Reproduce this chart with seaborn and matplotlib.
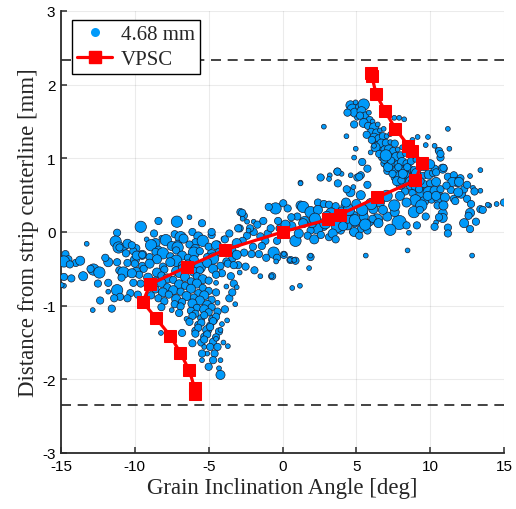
import numpy as np
import pandas as pd
import matplotlib
matplotlib.use("Agg")
import matplotlib.pyplot as plt
from matplotlib.lines import Line2D
import seaborn as sns

# ---------------- data ----------------
# VPSC model curve (angle in deg, position in mm)
vpsc_x = [5.98, 6.05, 6.34, 6.95, 7.65, 8.53, 8.80, 9.46, 8.99, 6.43, 3.87, 3.10, 0.0,
          -3.87, -6.45, -8.96, -9.46, -8.57, -7.60, -6.92, -6.31, -5.95, -5.95]
vpsc_y = [2.16, 2.12, 1.87, 1.64, 1.40, 1.17, 1.10, 0.94, 0.70, 0.47, 0.236, 0.17, 0.0,
          -0.24, -0.47, -0.71, -0.95, -1.17, -1.41, -1.64, -1.88, -2.12, -2.20]

strip_edges = [2.335, -2.345]

# measured grains: upper arm
arm_x = [4.6, 4.75, 4.9, 5.2, 5.5, 5.35, 5.05, 5.6, 5.85, 5.9, 5.5, 6.1, 5.8, 6.2, 6.45, 6.0, 6.35,
         6.6, 6.85, 6.2, 6.5, 6.8, 7.05, 7.3, 6.4, 6.7, 7.0, 7.3, 7.6, 6.6, 6.9, 7.2, 7.5, 7.8, 8.1,
         6.8, 7.1, 7.4, 7.7, 8.0, 8.3, 8.6, 6.9, 7.2, 7.5, 7.8, 8.1, 8.4, 8.7, 9.0, 7.1, 7.4, 7.7,
         8.0, 8.3, 8.6, 8.9, 9.3, 9.6, 7.6, 7.9, 8.2, 8.5, 8.8, 9.1, 9.5, 9.9, 10.2, 8.0, 8.4, 8.7,
         9.2, 9.6, 10.0, 10.4, 8.3, 8.8, 9.4, 9.9, 10.3, 10.7, 9.0, 9.6, 10.1, 10.6, 11.0,
         5.7, 6.05, 6.3, 6.55, 6.9, 7.15, 7.45, 7.75, 8.05, 8.35, 8.65, 8.95, 9.25, 7.35, 7.85,
         8.15, 8.45, 8.75, 9.05, 9.35, 4.4, 4.95, 5.25]
arm_y = [1.72, 1.66, 1.62, 1.70, 1.73, 1.64, 1.55, 1.58, 1.62, 1.52, 1.48, 1.50, 1.44, 1.42, 1.46,
         1.36, 1.35, 1.38, 1.40, 1.28, 1.27, 1.30, 1.30, 1.33, 1.18, 1.20, 1.21, 1.22, 1.20, 1.10,
         1.12, 1.12, 1.10, 1.12, 1.15, 1.02, 1.03, 1.01, 1.02, 1.04, 1.06, 1.08, 0.93, 0.92, 0.94,
         0.92, 0.95, 0.93, 0.96, 0.98, 0.83, 0.85, 0.82, 0.86, 0.83, 0.86, 0.84, 0.86, 0.88, 0.74,
         0.76, 0.73, 0.77, 0.74, 0.72, 0.76, 0.78, 0.80, 0.64, 0.66, 0.63, 0.62, 0.65, 0.66, 0.68,
         0.55, 0.53, 0.52, 0.54, 0.56, 0.58, 0.43, 0.42, 0.44, 0.46, 0.47,
         1.32, 1.25, 1.15, 1.06, 0.98, 0.88, 0.79, 0.69, 0.70, 0.78, 0.69, 0.62, 0.58, 0.97, 0.88,
         0.79, 0.88, 0.67, 0.80, 0.69, 1.62, 1.76, 1.58]
arm_s = [30, 45, 30, 20, 45, 30, 10, 20, 10, 20, 30, 10, 20, 30, 10, 20, 20, 10, 10, 30, 20, 20,
         10, 10, 20, 30, 20, 10, 20, 20, 20, 30, 20, 10, 10, 30, 20, 20, 30, 20, 10, 10, 20, 30,
         20, 20, 30, 20, 20, 10, 20, 20, 30, 20, 30, 20, 20, 10, 20, 20, 30, 20, 20, 30, 20, 20,
         30, 20, 30, 20, 30, 45, 20, 20, 30, 20, 20, 30, 45, 30, 20, 45, 30, 20, 45, 30,
         20, 20, 30, 20, 20, 30, 20, 30, 20, 20, 30, 20, 20, 20, 20, 30, 20, 20, 30, 20,
         20, 10, 20]

# measured grains: scattered around the upper arm and right tail
right_x = [2.8, 4.33, 4.85, 4.96, 4.85, 3.72, 4.0, 3.2, 1.22, 2.65, 5.3, 5.75, 5.4, 5.97, 6.2,
           5.07, 4.6, 5.3, 5.75, 7.0, 11.2, 11.3, 10.5, 10.7, 10.3, 9.7, 9.85, 8.8, 9.15, 8.24,
           7.9, 7.57, 10.85, 10.3, 11.2, 11.6, 12.05, 12.7, 13.4, 13.4, 12.9, 11.8, 12.1, 12.5,
           11.6, 13.4, 14.0, 14.5, 15.0, 12.7, 12.3, 12.7, 10.85, 10.85, 11.2, 10.4, 9.7, 9.83,
           10.4, 10.5, 9.4, 8.9, 7.9, 7.3, 8.4, 9.1, 6.4, 7.1, 7.6, 8.4, 7.95, 7.05, 6.6, 6.15,
           5.45, 4.8, 4.9, 4.3, 4.2, 4.8, 4.4, 5.3, 5.9, 7.57, 13.9, 13.56, 12.77, 12.6, 13.1,
           11.7, 10.9, 11.2, 10.3, 8.56, 12.84, 5.64, 8.47, 10.6, 10.7, 10.9, 10.4, 11.5, 11.95,
           12.3, 11.4, 11.9, 12.5, 13.0, 10.6, 11.1, 10.0, 9.3]
right_y = [1.43, 1.30, 1.46, 1.13, 1.01, 0.82, 0.79, 0.77, 0.67, 0.74, 0.77, 0.86, 0.95, 1.08,
           1.17, 0.74, 0.54, 0.50, 0.64, 1.04, 1.40, 1.13, 1.11, 1.01, 1.17, 1.18, 1.29, 1.25,
           1.29, 1.53, 1.55, 1.55, 0.86, 0.86, 0.75, 0.77, 0.73, 0.76, 0.84, 0.56, 0.60, 0.68,
           0.52, 0.45, 0.45, 0.31, 0.36, 0.38, 0.40, 0.26, 0.12, 0.04, 0.25, 0.19, 0.06, 0.13,
           0.21, 0.49, 0.49, 0.36, 0.36, 0.27, 0.13, 0.03, 0.09, 0.09, 0.17, 0.21, 0.27, 0.40,
           0.49, 0.49, 0.40, 0.31, 0.27, 0.22, 0.13, 0.17, 0.35, 0.00, 0.09, 0.04, 0.13, 0.36,
           0.37, 0.30, 0.38, 0.22, 0.14, 0.42, 0.36, -0.02, 0.07, -0.01, -0.32, -0.32, -0.25,
           1.10, 1.06, 0.87, 0.81, 0.68, 0.68, 0.58, 0.57, 0.54, 0.64, 0.55, 0.20, 0.63, 0.92,
           0.30]
right_s = [10, 10, 20, 10, 10, 20, 10, 10, 10, 10, 20, 20, 20, 10, 10, 20, 30, 30, 20, 45, 10,
           10, 10, 20, 10, 10, 10, 10, 10, 10, 10, 10, 30, 20, 20, 20, 20, 10, 10, 10, 10, 30,
           30, 20, 20, 20, 10, 10, 20, 30, 30, 20, 30, 30, 20, 10, 20, 30, 30, 20, 45, 45, 70,
           45, 20, 20, 45, 30, 30, 30, 30, 45, 30, 30, 30, 30, 30, 20, 20, 20, 30, 20, 20, 45,
           10, 20, 20, 20, 20, 20, 30, 20, 20, 10, 10, 10, 10, 20, 20, 20, 20, 30, 30, 20, 20,
           30, 20, 20, 20, 20, 30, 20]

# measured grains: central band
center_x = [3.72, 1.22, 2.58, 3.15, 3.75, 4.62, 5.2, 4.8, 4.35, -0.47, -0.93, 0.05, 0.35, 1.22,
            1.4, 1.9, 2.4, 2.8, 3.15, 3.6, 1.0, 2.4, 4.0, 4.4, 4.9, 5.5, 6.1, 5.75, 4.85, 3.95,
            3.7, 2.8, 2.35, 1.9, 1.7, 2.15, 2.6, 3.15, 0.88, 0.09, -0.37, -1.16, -1.5, -1.95,
            -2.4, -2.7, -1.4, -1.6, -0.6, -0.37, 0.09, 0.54, 0.88, 1.9, 1.8, -2.5, -1.9, -1.5,
            -0.7, -2.6, -2.1, -2.62, -2.85, -1.95, -2.2, -1.7, 1.9, 0.66, 1.18, 0.5, 0.8, 0.1,
            -0.43, -0.74, 2.0, 2.9, 3.4, 1.5, 0.6, -0.2, -1.0, -3.1, -3.4, -2.9,
            3.3, 4.1, 4.5, 5.0, 5.6, 6.0, 6.8, 5.2, 3.6, 1.4, 0.6, 0.2, -0.8, -1.3, -2.0, -3.0,
            -3.5, -1.1, 2.2, 3.0, 4.3, 5.4, 6.5, 1.1, -0.3]
center_y = [0.82, 0.66, 0.74, 0.72, 0.66, 0.77, 0.75, 0.61, 0.58, 0.32, 0.34, 0.39, 0.32, 0.36,
            0.34, 0.27, 0.40, 0.38, 0.37, 0.35, 0.21, 0.30, 0.29, 0.18, 0.16, 0.21, 0.18, 0.02,
            0.00, 0.02, 0.07, 0.07, 0.05, 0.02, -0.05, -0.10, -0.04, -0.07, -0.12, -0.03, -0.12,
            -0.12, -0.06, 0.00, -0.05, -0.12, -0.19, -0.30, -0.28, -0.35, -0.31, -0.38, -0.39,
            -0.34, -0.49, -0.47, -0.52, -0.60, -0.60, -0.28, -0.30, 0.22, 0.27, 0.14, 0.05, 0.10,
            -0.32, -0.76, -0.73, -0.38, -0.38, -0.30, -0.40, -0.60, 0.12, 0.12, -0.02, 0.15,
            0.08, 0.05, -0.02, -0.15, -0.36, 0.05,
            0.25, 0.08, 0.30, 0.38, 0.10, 0.38, 0.30, -0.05, -0.10, 0.12, 0.20, 0.10, 0.05, 0.15,
            -0.20, 0.05, -0.25, -0.35, 0.18, 0.22, 0.40, 0.30, 0.12, -0.02, 0.15]
center_s = [20, 10, 20, 10, 20, 10, 20, 10, 20, 45, 20, 20, 20, 30, 45, 45, 20, 20, 20, 20, 20,
            30, 20, 30, 45, 30, 20, 20, 30, 20, 45, 20, 45, 20, 20, 30, 20, 20, 45, 20, 20, 20,
            20, 20, 20, 20, 20, 20, 45, 20, 20, 20, 20, 20, 10, 20, 20, 10, 20, 20, 20, 20, 20,
            10, 20, 20, 10, 10, 10, 10, 10, 10, 10, 10, 30, 45, 30, 30, 30, 20, 20, 30, 20, 20,
            45, 30, 45, 30, 45, 45, 30, 20, 20, 30, 20, 30, 20, 20, 20, 20, 30, 20, 45, 30, 30,
            45, 30, 30, 20]

# measured grains: lower-left cluster
lower_x = [-8.7, -8.2, -7.3, -6.9, -6.1, -5.7, -4.8, -4.0,
           -9.2, -8.6, -7.9, -7.1, -6.7, -5.9, -5.4, -4.4, -3.9,
           -9.9, -8.9, -8.4, -7.5, -7.1, -6.3, -5.9, -5.0, -4.5, -3.4,
           -10.1, -9.5, -8.6, -8.1, -7.2, -6.8, -6.0, -5.6, -4.8, -4.3, -3.1,
           -10.0, -9.0, -8.5, -7.6, -7.2, -6.4, -6.0, -5.1, -4.7, -3.8,
           -10.5, -9.5, -9.0, -8.1, -7.6, -6.8, -6.4, -5.6, -5.1, -4.2, -3.7,
           -9.9, -9.4, -8.5, -8.0, -7.2, -6.8, -6.0, -5.6, -4.7, -4.1,
           -9.7, -9.1, -8.2, -7.8, -7.0, -6.6, -5.8, -5.4, -4.5,
           -9.6, -8.6, -8.2, -7.4, -7.0, -6.2, -5.8, -5.0, -4.5,
           -9.0, -8.6, -7.8, -7.4, -6.6, -6.2, -5.4, -5.0, -3.8,
           -8.9, -8.1, -7.7, -6.9, -6.5, -5.7, -5.3, -4.5,
           -8.4, -8.0, -7.2, -6.8, -6.0, -5.6, -4.8, -4.4,
           -8.2, -7.3, -6.9, -6.1, -5.8, -5.1, -4.8, -3.2,
           -7.5, -7.0, -6.2, -5.9, -5.3, -5.0, -4.4,
           -6.5, -6.1, -5.5, -5.3, -4.7, -4.5,
           -6.3, -5.7, -5.5, -4.9, -4.7, -4.1,
           -5.9, -5.7, -5.1, -4.9, -4.3,
           -5.9, -5.3, -5.1, -4.5, -6.8,
           -5.5, -5.3, -4.7, -4.5, -6.1,
           -5.3, -4.9, -4.4, -5.1, -4.6, -5.45, -4.7, -5.45, -4.2, -5.0, -4.2,
           -3.75, -4.2, -8.23, -9.6, -7.15, -5.45, -4.8, -3.6, -2.73, -2.7, -2.4, -2.3, -8.4,
           -6.3, -3.0, -3.3,
           -3.5, -3.1, -3.6, -2.9, -3.9, -4.0, -3.7, -3.3, -4.3, -3.4]
lower_y = [-0.02, -0.08, -0.03, -0.07, 0.00, -0.06, -0.04, -0.09,
           -0.10, -0.15, -0.11, -0.16, -0.09, -0.14, -0.12, -0.17, -0.10,
           -0.22, -0.18, -0.24, -0.19, -0.21, -0.17, -0.23, -0.20, -0.18, -0.24,
           -0.26, -0.31, -0.27, -0.29, -0.25, -0.32, -0.28, -0.26, -0.30, -0.27, -0.31,
           -0.38, -0.34, -0.37, -0.33, -0.39, -0.35, -0.38, -0.34, -0.36, -0.40,
           -0.42, -0.46, -0.43, -0.47, -0.41, -0.45, -0.44, -0.48, -0.42, -0.46, -0.43,
           -0.54, -0.50, -0.55, -0.51, -0.53, -0.49, -0.54, -0.52, -0.50, -0.56,
           -0.58, -0.62, -0.59, -0.63, -0.57, -0.61, -0.60, -0.64, -0.58,
           -0.70, -0.66, -0.69, -0.65, -0.71, -0.67, -0.70, -0.66, -0.69,
           -0.74, -0.78, -0.75, -0.79, -0.73, -0.77, -0.76, -0.80, -0.74,
           -0.86, -0.82, -0.85, -0.81, -0.87, -0.83, -0.86, -0.82,
           -0.90, -0.94, -0.91, -0.95, -0.89, -0.93, -0.92, -0.96,
           -1.02, -0.98, -1.01, -0.97, -1.03, -0.99, -1.02, -0.98,
           -1.06, -1.10, -1.07, -1.11, -1.05, -1.09, -1.08,
           -1.18, -1.14, -1.17, -1.13, -1.19, -1.15,
           -1.22, -1.26, -1.23, -1.27, -1.21, -1.25,
           -1.34, -1.30, -1.33, -1.29, -1.35,
           -1.38, -1.42, -1.39, -1.43, -1.37,
           -1.50, -1.46, -1.49, -1.45, -1.51,
           -1.56, -1.56, -1.56, -1.65, -1.65, -1.65, -1.74, -1.74, -1.74, -1.83, -1.94,
           -1.20, -1.33, -1.37, 0.07, 0.14, 0.12, 0.00, -0.02, 0.26, 0.18, 0.14, 0.02, 0.15,
           0.20, -0.45, -0.70,
           -0.60, -0.75, -0.90, -0.55, -1.05, -1.50, -1.55, -0.45, -1.85, -0.82]
lower_s = [20, 10, 20, 45, 20, 30, 20, 10,
           10, 30, 45, 20, 30, 20, 45, 20, 20,
           20, 45, 20, 30, 45, 20, 30, 20, 30, 20,
           20, 30, 20, 45, 20, 30, 45, 20, 30, 20, 30,
           30, 20, 30, 20, 45, 20, 30, 20, 45, 20,
           20, 20, 30, 20, 30, 20, 30, 45, 30, 20, 20,
           30, 20, 30, 20, 30, 20, 30, 20, 30, 20,
           20, 30, 20, 30, 20, 30, 20, 30, 20,
           20, 20, 30, 20, 30, 20, 30, 20, 10,
           30, 20, 20, 30, 20, 30, 20, 20, 10,
           20, 30, 20, 20, 30, 20, 30, 20,
           20, 20, 30, 20, 20, 30, 20, 10,
           20, 20, 20, 30, 20, 30, 20, 10,
           10, 20, 20, 20, 30, 20, 20,
           10, 20, 20, 20, 30, 20,
           20, 20, 20, 20, 20, 10,
           20, 20, 30, 20, 20,
           20, 20, 20, 20, 20,
           20, 20, 20, 10, 20,
           10, 20, 20, 10, 20, 20, 20, 10, 10, 20, 30,
           10, 10, 10, 45, 45, 20, 20, 20, 20, 10, 10, 10, 20, 10, 20, 20,
           20, 10, 20, 10, 20, 10, 10, 20, 10, 20]

# measured grains: left tail
left_x = [-14.7, -14.5, -14.8, -14.0, -14.4, -13.7, -13.26, -14.8, -14.8, -14.3, -13.5, -12.85,
          -12.8, -12.4, -12.5, -12.35, -11.8, -11.8, -11.8, -11.56, -11.2, -11.3, -11.1, -11.2,
          -11.05, -11.2, -11.0, -11.4, -10.77, -10.7, -10.5, -10.2, -10.6, -9.87, -10.0, -9.5,
          -10.2, -10.1, -10.3, -9.8, -10.5, -14.95, -11.04, -12.0, -13.0, -10.9]
left_y = [-0.30, -0.37, -0.40, -0.42, -0.44, -0.39, -0.16, -0.73, -0.61, -0.63, -0.60, -1.06,
          -0.51, -0.55, -0.70, -0.93, -0.41, -0.69, -0.81, -1.04, -0.01, -0.13, -0.21, -0.41,
          -0.52, -0.79, -0.88, -0.90, -0.55, -0.20, -0.16, -0.18, -0.29, -0.32, -0.43, -0.31,
          -0.56, -0.69, -0.83, -0.85, -0.90, -0.72, -0.21, -0.35, -0.50, -0.62]
left_s = [20, 20, 45, 20, 20, 30, 10, 10, 20, 20, 30, 10, 45, 45, 20, 20, 30, 20, 10, 20, 20,
          45, 45, 20, 20, 45, 20, 20, 45, 20, 30, 20, 20, 30, 20, 20, 30, 20, 20, 20, 20, 10,
          20, 20, 20, 20]

# ---------------- plot ----------------
sns.set_theme(style="white")
plt.rcParams['font.family'] = ['Liberation Sans', 'DejaVu Sans']

gx = arm_x + right_x + center_x + lower_x + left_x
gy = arm_y + right_y + center_y + lower_y + left_y
gs = arm_s + right_s + center_s + lower_s + left_s
grains = pd.DataFrame({"angle": gx, "pos": gy, "size": gs})
vpsc = pd.DataFrame({"angle": vpsc_x, "pos": vpsc_y})

fig = plt.figure(figsize=(5.16, 5.10), dpi=100)
ax = fig.add_axes([61 / 516, 1 - 454 / 510, 443 / 516, 442 / 510])

blue = "#009AFA"
sns.scatterplot(data=grains, x="angle", y="pos", size="size", sizes=(12, 105), size_norm=(10, 70),
                color=blue, edgecolor="#1b1b2a", linewidth=0.5, legend=False, ax=ax, zorder=3)

for yv in strip_edges:
    ax.axhline(yv, color="#222222", lw=1.2, ls=(0, (6, 4)), zorder=2)

sns.lineplot(data=vpsc, x="angle", y="pos", sort=False, estimator=None, color="#FF0000",
             lw=2.3, marker="s", markersize=8, markeredgecolor="#FF0000", ax=ax, zorder=4)

ax.set_xlim(-15, 15)
ax.set_ylim(-3, 3)
ax.set_xticks([-15, -10, -5, 0, 5, 10, 15])
ax.set_yticks([-3, -2, -1, 0, 1, 2, 3])
ax.set_xticklabels(["-15", "-10", "-5", "0", "5", "10", "15"])
ax.set_yticklabels(["-3", "-2", "-1", "0", "1", "2", "3"])
ax.grid(True, color="#000000", alpha=0.08, lw=0.8)
for sp in ["top", "right"]:
    ax.spines[sp].set_visible(False)
for sp in ["left", "bottom"]:
    ax.spines[sp].set_color("#2a2a2a")
    ax.spines[sp].set_linewidth(1.3)
ax.tick_params(axis="both", direction="in", length=4, width=1.1, color="#2a2a2a",
               labelsize=11, labelcolor="black", pad=4, left=True, bottom=True)

serif = ["Liberation Serif", "DejaVu Serif"]
ax.set_xlabel("Grain Inclination Angle [deg]", fontsize=16.5, family=serif, labelpad=3)
ax.set_ylabel("Distance from strip centerline [mm]", fontsize=16.5, family=serif, labelpad=2)

handles = [Line2D([], [], ls="none", marker="o", markersize=6.5, color=blue, markeredgewidth=0),
           Line2D([], [], color="#FF0000", lw=2.3, marker="s", markersize=8)]
leg = ax.legend(handles, ["4.68 mm", "VPSC"], loc="upper left", bbox_to_anchor=(0.015, 0.99),
                prop={"family": serif, "size": 15}, frameon=True, fancybox=False,
                edgecolor="black", framealpha=1, borderpad=0.25, labelspacing=0.25,
                handlelength=1.7, handletextpad=0.4, borderaxespad=0.2)
leg.get_frame().set_linewidth(1.0)
leg.set_zorder(10)

fig.savefig("out.png", dpi=100)
